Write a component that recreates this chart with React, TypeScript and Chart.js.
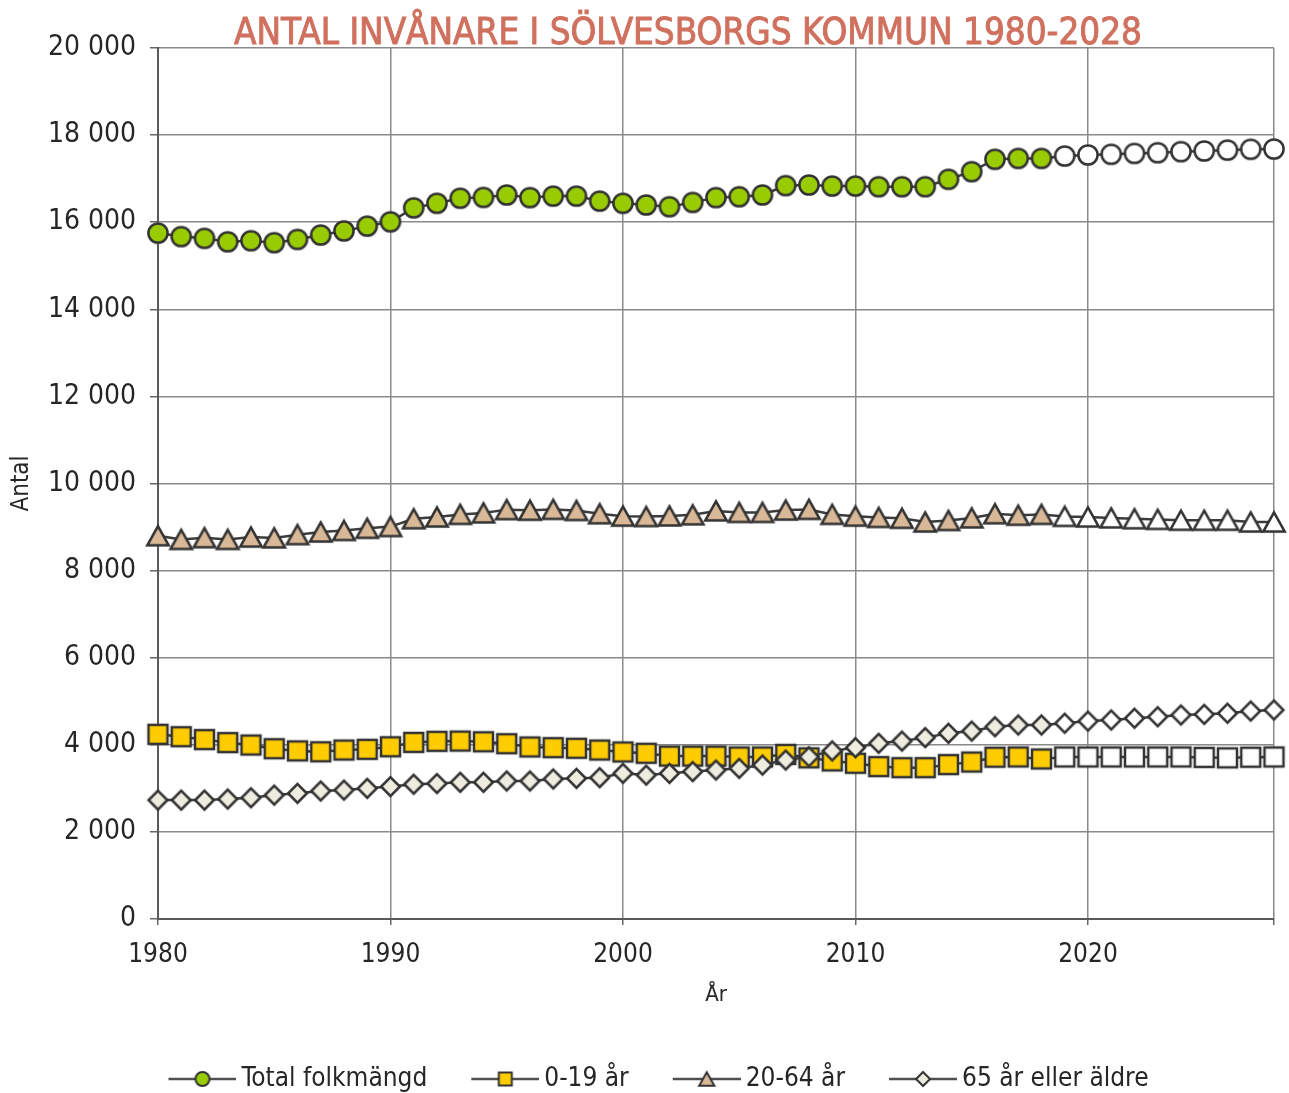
import { useEffect, useRef } from 'react';
import { Chart, registerables } from 'chart.js';

Chart.register(...registerables);

const chartTitle = 'ANTAL INVÅNARE I SÖLVESBORGS KOMMUN 1980-2028';
const xTitle = 'År';
const yTitle = 'Antal';
const seriesLabels = ['Total folkmängd', '0-19 år', '20-64 år', '65 år eller äldre'];
const projectionStart = 2019;

const years = [
  1980, 1981, 1982, 1983, 1984, 1985, 1986, 1987, 1988, 1989,
  1990, 1991, 1992, 1993, 1994, 1995, 1996, 1997, 1998, 1999,
  2000, 2001, 2002, 2003, 2004, 2005, 2006, 2007, 2008, 2009,
  2010, 2011, 2012, 2013, 2014, 2015, 2016, 2017, 2018, 2019,
  2020, 2021, 2022, 2023, 2024, 2025, 2026, 2027, 2028,
];

const total = [
  15750, 15670, 15630, 15550, 15575, 15530, 15605, 15705, 15800, 15910,
  16010, 16330, 16435, 16550, 16570, 16625, 16565, 16600, 16600, 16485,
  16435, 16395, 16355, 16455, 16565, 16585, 16625, 16840, 16855, 16830,
  16830, 16815, 16815, 16815, 16985, 17160, 17445, 17465, 17465, 17520,
  17545, 17560, 17580, 17595, 17620, 17635, 17655, 17675, 17680,
];

const age0to19 = [
  4240, 4185, 4120, 4050, 3995, 3910, 3860, 3840, 3880, 3895,
  3955, 4055, 4080, 4085, 4070, 4025, 3950, 3935, 3920, 3880,
  3835, 3805, 3740, 3740, 3740, 3720, 3720, 3780, 3700, 3630,
  3575, 3500, 3475, 3475, 3545, 3605, 3715, 3720, 3675, 3720,
  3720, 3720, 3720, 3720, 3720, 3710, 3700, 3715, 3720,
];

const age20to64 = [
  8800, 8715, 8755, 8715, 8770, 8750, 8825, 8885, 8920, 8970,
  9010, 9190, 9230, 9290, 9325, 9400, 9385, 9405, 9380, 9305,
  9250, 9240, 9255, 9280, 9370, 9335, 9335, 9390, 9405, 9290,
  9250, 9220, 9200, 9115, 9150, 9210, 9305, 9270, 9290, 9245,
  9230, 9210, 9190, 9175, 9155, 9155, 9155, 9115, 9115,
];

const age65plus = [
  2730, 2730, 2730, 2755, 2785, 2845, 2885, 2940, 2960, 3000,
  3040, 3095, 3110, 3140, 3140, 3170, 3170, 3215, 3230, 3245,
  3345, 3305, 3345, 3385, 3420, 3460, 3535, 3650, 3725, 3860,
  3935, 4035, 4085, 4165, 4265, 4315, 4415, 4455, 4455, 4495,
  4545, 4570, 4610, 4645, 4685, 4700, 4725, 4775, 4800,
];

const seriesValues = [total, age0to19, age20to64, age65plus];
const seriesShapes = ['circle', 'square', 'triangle', 'diamond'];
const seriesFills = ['#99cc00', '#ffcc00', '#d9b897', '#eeebdf'];
const projectionFill = '#ffffff';
const markerStroke = '#333333';
const lineColor = '#3c3c3c';

const FONT = "'DejaVu Sans Condensed', 'Liberation Sans Narrow', 'Arial Narrow', sans-serif";
const TEXT = '#262626';
const TITLE_COLOR = '#d0705e';

function tracePath(ctx, shape, cx, cy, s) {
  ctx.beginPath();
  if (shape === 'circle') {
    ctx.arc(cx, cy, s, 0, Math.PI * 2);
  } else if (shape === 'square') {
    ctx.rect(cx - s, cy - s, 2 * s, 2 * s);
  } else if (shape === 'triangle') {
    ctx.moveTo(cx, cy - s);
    ctx.lineTo(cx + s * 1.12, cy + s);
    ctx.lineTo(cx - s * 1.12, cy + s);
    ctx.closePath();
  } else {
    ctx.moveTo(cx, cy - s);
    ctx.lineTo(cx + s, cy);
    ctx.lineTo(cx, cy + s);
    ctx.lineTo(cx - s, cy);
    ctx.closePath();
  }
}

const markerSize = { circle: 9.6, square: 9.5, triangle: 9.6, diamond: 9.4 };
const legendMarkerSize = { circle: 7.0, square: 6.5, triangle: 6.8, diamond: 7.0 };

function makeMarker(shape, fill) {
  const s = markerSize[shape];
  const size = Math.ceil(2 * s * 1.2 + 8);
  const c = document.createElement('canvas');
  c.width = size;
  c.height = size;
  const ctx = c.getContext('2d');
  ctx.lineJoin = 'miter';
  ctx.miterLimit = 3;
  tracePath(ctx, shape, size / 2, size / 2, s);
  ctx.fillStyle = fill;
  ctx.fill();
  ctx.lineWidth = 2.5;
  ctx.strokeStyle = markerStroke;
  ctx.stroke();
  return c;
}

const LEGEND_FONT = 26;
const LEGEND_PAD = 10;
const LEGEND_BOX = 94;
const LEGEND_ICON_W = 110;
const LEGEND_LINE = 68;

function makeLegendIcon(shape, fill) {
  const c = document.createElement('canvas');
  c.width = LEGEND_ICON_W;
  c.height = 24;
  const ctx = c.getContext('2d');
  const y = 12;
  ctx.strokeStyle = '#505050';
  ctx.lineWidth = 2.5;
  ctx.beginPath();
  ctx.moveTo(LEGEND_ICON_W - LEGEND_LINE, y);
  ctx.lineTo(LEGEND_ICON_W, y);
  ctx.stroke();
  const cx = LEGEND_ICON_W - LEGEND_LINE / 2;
  tracePath(ctx, shape, cx, y, legendMarkerSize[shape]);
  ctx.fillStyle = fill;
  ctx.fill();
  ctx.lineWidth = 2;
  ctx.strokeStyle = markerStroke;
  ctx.stroke();
  return c;
}

function formatThousands(v) {
  return String(v).replace(/\B(?=(\d{3})+(?!\d))/g, ' ');
}

const titlePlugin = {
  id: 'offsetTitle',
  afterDraw(chart) {
    const { ctx, chartArea } = chart;
    ctx.save();
    ctx.font = `normal 36.5px ${FONT}`;
    ctx.fillStyle = TITLE_COLOR;
    ctx.strokeStyle = TITLE_COLOR;
    ctx.lineWidth = 0.9;
    ctx.textAlign = 'center';
    ctx.textBaseline = 'alphabetic';
    const cx = (chartArea.left + chartArea.right) / 2 - 28;
    ctx.fillText(chartTitle, cx, chartArea.top - 4);
    ctx.strokeText(chartTitle, cx, chartArea.top - 4);
    ctx.restore();
  },
};

export default function App() {
  const ref = useRef(null);

  useEffect(() => {
    document.body.style.margin = '0';
    document.body.style.overflow = 'hidden';
    Chart.defaults.font.family = FONT;
    Chart.defaults.color = TEXT;

    const filled = seriesShapes.map((sh, i) => makeMarker(sh, seriesFills[i]));
    const hollow = seriesShapes.map((sh) => makeMarker(sh, projectionFill));
    const icons = seriesShapes.map((sh, i) => makeLegendIcon(sh, seriesFills[i]));

    const datasets = seriesLabels.map((label, i) => ({
      label,
      data: years.map((yr, j) => ({ x: yr, y: seriesValues[i][j] })),
      borderColor: lineColor,
      borderWidth: 2.5,
      tension: 0,
      clip: false,
      pointRadius: 10,
      pointHoverRadius: 10,
      pointStyle: (ctx) => (years[ctx.dataIndex] >= projectionStart ? hollow[i] : filled[i]),
      order: i === 3 ? -1 : i === 0 ? -2 : i,
    }));

    const chart = new Chart(ref.current, {
      type: 'line',
      data: { datasets },
      plugins: [titlePlugin],
      options: {
        responsive: false,
        animation: false,
        layout: { padding: { left: 8, right: 14, top: 48, bottom: -9 } },
        plugins: {
          tooltip: { enabled: false },
          title: { display: false },
          legend: {
            position: 'bottom',
            labels: {
              usePointStyle: true,
              pointStyleWidth: LEGEND_BOX,
              padding: LEGEND_PAD,
              color: TEXT,
              font: { size: LEGEND_FONT },
              generateLabels: () =>
                seriesLabels.map((text, i) => ({
                  text,
                  pointStyle: icons[i],
                  datasetIndex: i,
                  hidden: false,
                  lineWidth: 0,
                  fillStyle: 'rgba(0,0,0,0)',
                  strokeStyle: 'rgba(0,0,0,0)',
                  fontColor: TEXT,
                })),
            },
          },
        },
        scales: {
          x: {
            type: 'linear',
            min: 1980,
            max: 2028,
            afterFit: (scale) => {
              scale.height = 137;
            },
            ticks: {
              stepSize: 10,
              padding: 15,
              color: TEXT,
              font: { size: 26 },
              maxRotation: 0,
              autoSkip: false,
              callback: (v) => (Number(v) % 10 === 0 ? String(v) : ''),
            },
            grid: { color: '#8a8a8a', lineWidth: 1.5, tickLength: 6, tickColor: '#666' },
            border: { color: '#5a5a5a', width: 2 },
            title: {
              display: true,
              text: xTitle,
              color: TEXT,
              font: { size: 22, lineHeight: 1 },
              padding: { top: 0, bottom: 50 },
            },
          },
          y: {
            min: 0,
            max: 20000,
            afterFit: (scale) => {
              scale.width = 150;
            },
            ticks: {
              stepSize: 2000,
              padding: 14,
              color: TEXT,
              font: { size: 28 },
              callback: (v) => formatThousands(v),
            },
            grid: { color: '#8a8a8a', lineWidth: 1.5, tickLength: 8, tickColor: '#666' },
            border: { color: '#5a5a5a', width: 2 },
            title: {
              display: true,
              text: yTitle,
              color: TEXT,
              font: { size: 24, lineHeight: 1 },
              padding: { top: 2, bottom: 0 },
            },
          },
        },
      },
    });
    return () => chart.destroy();
  }, []);

  return (
    <div style={{ width: 1289, height: 1093 }}>
      <canvas ref={ref} width={1289} height={1093} />
    </div>
  );
}
